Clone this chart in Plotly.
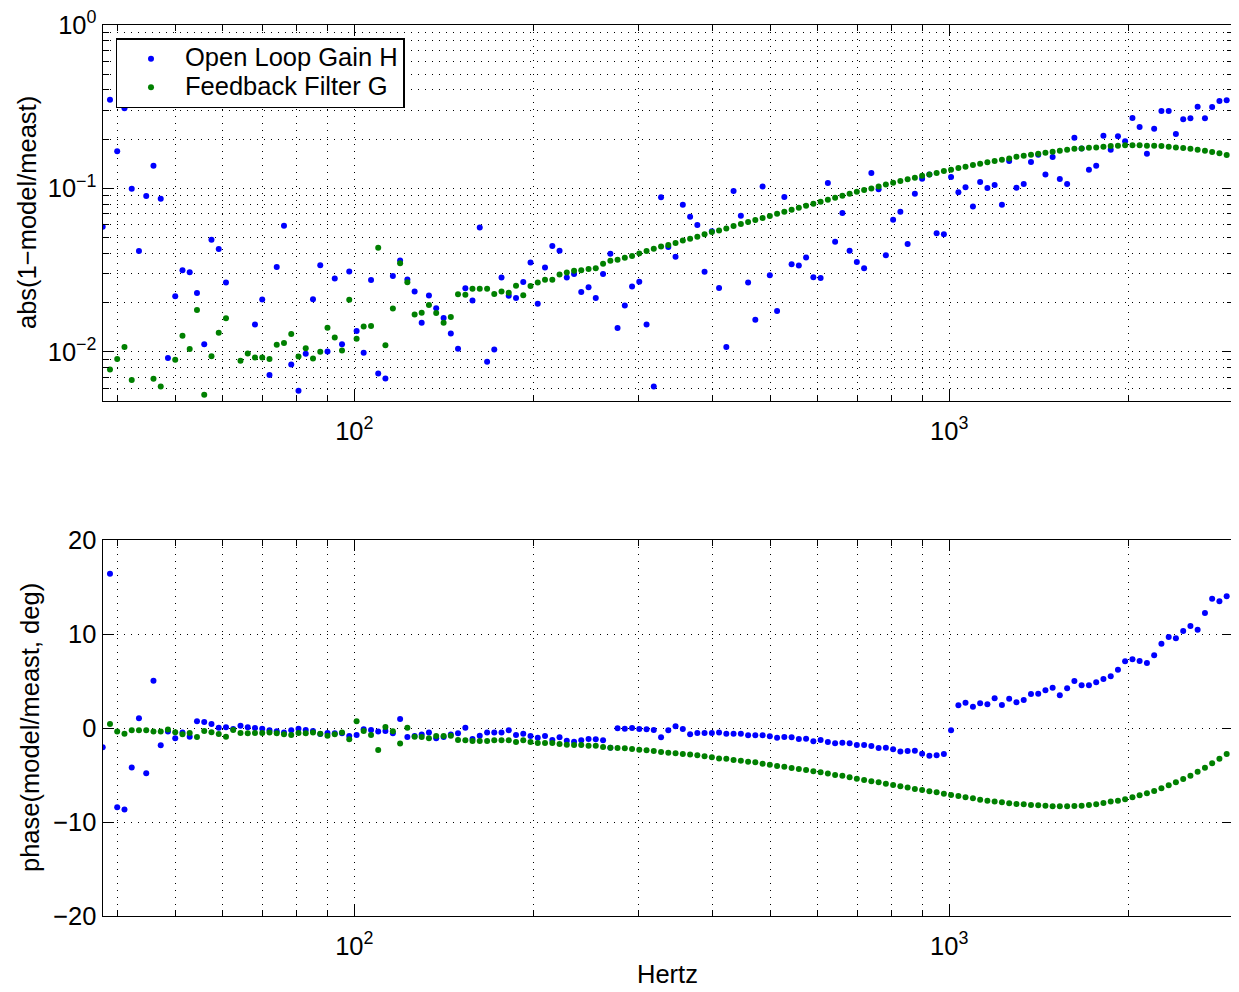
import math
import plotly.graph_objects as go

# ---------------- data ----------------
freq = [
    37.77, 38.85, 39.95, 41.09, 42.26, 43.46, 44.70, 45.97, 47.28, 48.62,
    50.01, 51.43, 52.89, 54.40, 55.95, 57.54, 59.18, 60.86, 62.59, 64.38,
    66.21, 68.09, 70.03, 72.02, 74.07, 76.18, 78.35, 80.58, 82.87, 85.23,
    87.66, 90.15, 92.72, 95.36, 98.07, 100.9, 103.7, 106.7, 109.7, 112.8,
    116.1, 119.4, 122.8, 126.3, 129.8, 133.5, 137.3, 141.3, 145.3, 149.4,
    153.7, 158.0, 162.5, 167.2, 171.9, 176.8, 181.8, 187.0, 192.3, 197.8,
    203.4, 209.2, 215.2, 221.3, 227.6, 234.1, 240.7, 247.6, 254.6, 261.9,
    269.4, 277.0, 284.9, 293.0, 301.3, 309.9, 318.7, 327.8, 337.1, 346.7,
    356.6, 366.8, 377.2, 387.9, 399.0, 410.3, 422.0, 434.0, 446.4, 459.1,
    472.1, 485.6, 499.4, 513.6, 528.2, 543.3, 558.7, 574.6, 591.0, 607.8,
    625.1, 642.9, 661.2, 680.0, 699.3, 719.3, 739.7, 760.8, 782.4, 804.7,
    827.6, 851.2, 875.4, 900.3, 925.9, 952.3, 979.4, 1007, 1036, 1065,
    1096, 1127, 1159, 1192, 1226, 1261, 1297, 1334, 1372, 1411,
    1451, 1492, 1534, 1578, 1623, 1669, 1717, 1766, 1816, 1868,
    1921, 1975, 2032, 2089, 2149, 2210, 2273, 2338, 2404, 2473,
    2543, 2615, 2690, 2766, 2845, 2926,
]

# abs(1 - model/meas), open loop gain H (None = below the plotted range)
H_mag = [
    0.0582, 0.3486, 0.1684, 0.3086, 0.0995, 0.0413, 0.0897, 0.1375, 0.0864, 0.00915,
    0.0219, 0.0315, 0.0307, 0.0229, 0.01114, 0.0485, 0.0425, 0.0265, None, None,
    None, 0.01471, 0.0209, 0.0072, 0.0330, 0.0591, 0.00837, 0.00578, 0.00973, 0.0210,
    0.0339, 0.01005, 0.0281, 0.01114, 0.0310, 0.01339, 0.00987, 0.0275, 0.00737, 0.00687,
    0.0291, 0.0362, 0.0277, 0.0234, 0.01505, 0.0221, 0.0185, 0.01608, 0.01296, 0.01044,
    0.0245, 0.0206, 0.0577, 0.00869, 0.01034, 0.0285, 0.0220, 0.0213, 0.0267, 0.0352,
    0.0197, 0.0328, 0.0444, 0.0415, 0.0285, 0.0299, 0.0232, 0.0248, 0.0213, 0.0299,
    0.0398, 0.01397, 0.0192, 0.0251, 0.0268, 0.01471, 0.00614, 0.0881, 0.0437, 0.0382,
    0.0794, 0.0671, 0.0597, 0.0309, 0.0546, 0.0246, 0.01069, 0.0963, 0.0680, 0.0265,
    0.01572, 0.1028, 0.0294, 0.01776, 0.0885, 0.0343, 0.0337, 0.0377, 0.0286, 0.0283,
    0.1077, 0.0471, 0.0706, 0.0415, 0.0354, 0.0325, 0.1240, 0.0986, 0.0389, 0.0643,
    0.0720, 0.0456, 0.0927, 0.1145, 0.1215, 0.0532, 0.0523, 0.1173, 0.0945, 0.1014,
    0.0775, 0.1093, 0.1004, 0.1047, 0.0794, 0.1469, 0.1009, 0.1062, 0.1449, 0.1606,
    0.1217, 0.1554, 0.1140, 0.1062, 0.2041, 0.1756, 0.1300, 0.1375, 0.2100, 0.1724,
    0.2080, 0.1939, 0.2693, 0.2372, 0.1629, 0.2317, 0.2972, 0.2972, 0.2150, 0.2643,
    0.2681, 0.3160, 0.2681, 0.3145, 0.3423, 0.3455,
]

# abs(1 - model/meas), feedback filter G
G_mag = [
    None, 0.0078, 0.00902, 0.01069, 0.00671, None, None, 0.00684, 0.00614, None,
    0.00894, 0.01254, 0.01039, 0.0180, 0.00546, 0.0094, 0.01306, 0.01606, None, 0.00882,
    0.00978, 0.00924, 0.00924, 0.00902, 0.01104, 0.0113, 0.01284, 0.00937, 0.01053, 0.0091,
    0.0100, 0.01403, 0.01225, 0.0102, 0.0208, 0.01202, 0.0143, 0.01437, 0.0433, 0.01098,
    0.0184, 0.0348, 0.0266, 0.01694, 0.01734, 0.0193, 0.01726, 0.01506, 0.01632, 0.0225,
    0.0223, 0.0243, 0.0243, 0.0243, 0.02255, 0.0234, 0.0230, 0.02536, 0.0222, 0.02524,
    0.02658, 0.0276, 0.0276, 0.02975, 0.0306, 0.0313, 0.0315, 0.0321, 0.0324, 0.0346,
    0.0361, 0.0366, 0.0376, 0.0385, 0.0400, 0.0413, 0.0427, 0.0441, 0.0450, 0.0463,
    0.0480, 0.0492, 0.0506, 0.0523, 0.0540, 0.0553, 0.0569, 0.0588, 0.0605, 0.0622,
    0.0640, 0.0658, 0.0677, 0.0700, 0.0720, 0.0740, 0.0761, 0.0783, 0.0805, 0.0828,
    0.0852, 0.0877, 0.0900, 0.0927, 0.0954, 0.0976, 0.0999, 0.1028, 0.1057, 0.1083,
    0.1109, 0.1135, 0.1162, 0.1195, 0.1217, 0.1240, 0.1276, 0.1300, 0.1331, 0.1356,
    0.1389, 0.1415, 0.1442, 0.1469, 0.1497, 0.1525, 0.1561, 0.1584, 0.1606, 0.1629,
    0.1652, 0.1676, 0.1699, 0.1724, 0.1748, 0.1756, 0.1773, 0.1781, 0.1798, 0.1815,
    0.1823, 0.1832, 0.1832, 0.1832, 0.1823, 0.1823, 0.1815, 0.1798, 0.1781, 0.1765,
    0.1748, 0.1724, 0.1699, 0.1668, 0.1637, 0.1599,
]

# phase(model/meas) in degrees, open loop gain H
H_phase = [
    -2.02, 16.45, -8.40, -8.65, -4.18, 1.06, -4.79, 5.07, -1.81, -0.35,
    -1.06, -0.46, -0.89, 0.74, 0.67, 0.46, 0.07, 0.11, -0.07, 0.28,
    0.11, 0.04, -0.04, -0.21, -0.32, -0.46, -0.21, -0.04, -0.18, -0.28,
    -0.60, -0.50, -0.53, -0.53, -0.82, -0.71, -0.11, -0.18, -0.35, -0.28,
    -0.53, 0.99, -0.92, -0.82, -0.67, -0.46, -1.06, -0.92, -0.67, -0.53,
    0.05, -1.14, -0.78, -0.46, -0.46, -0.46, -0.22, -0.71, -0.57, -0.82,
    -1.00, -0.82, -1.24, -0.96, -1.32, -1.42, -1.28, -1.14, -1.17, -1.28,
    -2.06, 0.00, -0.04, 0.03, -0.07, -0.11, -0.18, -0.96, -0.22, 0.21,
    -0.07, -0.64, -0.50, -0.50, -0.50, -0.46, -0.57, -0.57, -0.57, -0.75,
    -0.75, -0.75, -0.85, -1.00, -0.93, -0.96, -1.14, -1.10, -1.39, -1.24,
    -1.46, -1.60, -1.53, -1.60, -1.77, -1.77, -1.88, -2.09, -2.06, -2.24,
    -2.48, -2.41, -2.38, -2.70, -2.91, -2.87, -2.73, -0.22, 2.44, 2.73,
    2.30, 2.66, 2.55, 3.19, 2.48, 3.15, 2.76, 3.01, 3.65, 3.68,
    4.04, 4.32, 3.51, 4.25, 5.03, 4.57, 4.57, 4.89, 5.24, 5.53,
    6.24, 7.12, 7.34, 7.16, 6.95, 7.76, 9.00, 9.71, 9.57, 10.35,
    10.88, 10.49, 12.27, 13.79, 13.51, 14.04,
]

# phase(model/meas) in degrees, feedback filter G
G_phase = [
    None, 0.46, -0.35, -0.57, -0.21, -0.21, -0.21, -0.35, -0.35, -0.14,
    -0.43, -0.64, -0.50, -0.92, -0.28, -0.43, -0.60, -0.89, -0.18, -0.50,
    -0.53, -0.50, -0.50, -0.46, -0.53, -0.64, -0.71, -0.50, -0.53, -0.46,
    -0.57, -0.78, -0.64, -0.46, -1.17, 0.74, -0.28, -0.71, -2.30, 0.14,
    -0.32, -1.63, 0.07, -0.89, -0.92, -1.06, -0.82, -0.82, -0.78, -1.24,
    -1.26, -1.35, -1.35, -1.35, -1.28, -1.28, -1.28, -1.46, -1.28, -1.46,
    -1.56, -1.56, -1.56, -1.67, -1.74, -1.78, -1.78, -1.85, -1.85, -1.99,
    -2.06, -2.10, -2.13, -2.20, -2.27, -2.34, -2.41, -2.52, -2.59, -2.66,
    -2.73, -2.80, -2.88, -2.98, -3.09, -3.20, -3.23, -3.37, -3.44, -3.55,
    -3.62, -3.76, -3.87, -4.01, -4.08, -4.22, -4.33, -4.43, -4.57, -4.68,
    -4.82, -4.96, -5.05, -5.21, -5.36, -5.50, -5.64, -5.75, -5.89, -6.03,
    -6.17, -6.31, -6.46, -6.56, -6.71, -6.81, -6.95, -7.09, -7.20, -7.34,
    -7.45, -7.59, -7.70, -7.80, -7.87, -7.98, -8.05, -8.09, -8.16, -8.19,
    -8.23, -8.30, -8.30, -8.30, -8.27, -8.23, -8.16, -8.09, -7.94, -7.80,
    -7.70, -7.55, -7.34, -7.13, -6.92, -6.67, -6.38, -6.06, -5.75, -5.39,
    -5.04, -4.61, -4.19, -3.72, -3.23, -2.73,
]

series_names = ["Open Loop Gain H", "Feedback Filter G"]
x_major = [100, 1000]
x_major_text = ["10<sup>2</sup>", "10<sup>3</sup>"]
x_minor = [40, 50, 60, 70, 80, 90, 200, 300, 400, 500, 600, 700, 800, 900, 2000, 3000]
mag_major = [0.01, 0.1, 1]
mag_major_text = ["10<sup>\u22122</sup>", "10<sup>\u22121</sup>", "10<sup>0</sup>"]
mag_minor = [0.005, 0.006, 0.007, 0.008, 0.009,
             0.02, 0.03, 0.04, 0.05, 0.06, 0.07, 0.08, 0.09,
             0.2, 0.3, 0.4, 0.5, 0.6, 0.7, 0.8, 0.9]
phase_ticks = [-20, -10, 0, 10, 20]

# ---------------- styling ----------------
# The page body has an 8px margin, so the figure is 8px smaller than the window
OFF = 8
W, H = 1239 - OFF, 992 - OFF
BLUE = "#0000ff"
GREEN = "#008000"
FONT = "Liberation Sans, Arial, Helvetica, sans-serif"
FS = 25.5
GRID_DASH = "1px,6px"


def fx(p):
    return (p - OFF) / W


def fy(p):
    return 1 - (p - OFF) / H


x_dom = [fx(102.7), fx(1232.7)]
top_dom = [fy(401.0), fy(24.9)]
bot_dom = [fy(916.3), fy(540.3)]

fig = go.Figure()
mk = dict(size=6, line=dict(width=0))
legend_names = ["<span style='font-size:%gpx'>%s</span>" % (FS, n) for n in series_names]
fig.add_trace(go.Scatter(x=freq, y=H_mag, mode="markers", name=legend_names[0],
                         marker=dict(color=BLUE, **mk), xaxis="x", yaxis="y", cliponaxis=True))
fig.add_trace(go.Scatter(x=freq, y=G_mag, mode="markers", name=legend_names[1],
                         marker=dict(color=GREEN, **mk), xaxis="x", yaxis="y", cliponaxis=True))
fig.add_trace(go.Scatter(x=freq, y=H_phase, mode="markers", name=series_names[0], showlegend=False,
                         marker=dict(color=BLUE, **mk), xaxis="x2", yaxis="y2", cliponaxis=True))
fig.add_trace(go.Scatter(x=freq, y=G_phase, mode="markers", name=series_names[1], showlegend=False,
                         marker=dict(color=GREEN, **mk), xaxis="x2", yaxis="y2", cliponaxis=True))

common = dict(showline=True, linecolor="black", linewidth=1.3, mirror="allticks",
              ticks="inside", ticklen=11, tickwidth=1, tickcolor="black",
              showgrid=True, gridcolor="black", gridwidth=1, griddash=GRID_DASH,
              zeroline=False, automargin=False, ticklabeloverflow="allow",
              tickfont=dict(family=FONT, size=FS, color="black"))
minor_common = dict(ticks="inside", ticklen=6, tickwidth=1, tickcolor="black",
                    showgrid=True, gridcolor="black", gridwidth=1, griddash=GRID_DASH)

xr = [math.log10(37.77), math.log10(2995)]
xaxis = dict(type="log", range=xr, domain=x_dom, anchor="y", ticklabelstandoff=7,
             tickmode="array", tickvals=x_major, ticktext=x_major_text,
             minor=dict(tickmode="array", tickvals=x_minor, **minor_common), **common)
xaxis2 = dict(type="log", range=xr, domain=x_dom, anchor="y2", ticklabelstandoff=7,
              tickmode="array", tickvals=x_major, ticktext=x_major_text,
              minor=dict(tickmode="array", tickvals=x_minor, **minor_common), **common)
yaxis = dict(type="log", range=[math.log10(0.005), 0], domain=top_dom, anchor="x",
             tickmode="array", tickvals=mag_major, ticktext=mag_major_text,
             minor=dict(tickmode="array", tickvals=mag_minor, **minor_common), **common)
yaxis2 = dict(range=[-20, 20], domain=bot_dom, anchor="x2",
              tickmode="array", tickvals=phase_ticks, **common)

fig.update_layout(
    template="none",
    width=W, height=H,
    margin=dict(l=0, r=0, t=0, b=0, pad=0, autoexpand=False),
    paper_bgcolor="white", plot_bgcolor="white",
    font=dict(family=FONT, size=FS, color="black"),
    xaxis=xaxis, yaxis=yaxis, xaxis2=xaxis2, yaxis2=yaxis2,
    showlegend=True,
    legend=dict(x=fx(115.7), y=fy(38.3), xanchor="left", yanchor="top",
                bgcolor="white", bordercolor="black", borderwidth=1.3,
                font=dict(family=FONT, size=19.5, color="black"),
                itemwidth=58, tracegroupgap=0, traceorder="normal"),
    annotations=[
        dict(text="abs(1\u2212model/meast)", x=fx(27), y=fy(213), xref="paper", yref="paper",
             showarrow=False, textangle=-90, font=dict(family=FONT, size=FS, color="black"),
             xanchor="center", yanchor="middle"),
        dict(text="phase(model/meast, deg)", x=fx(30), y=fy(728), xref="paper", yref="paper",
             showarrow=False, textangle=-90, font=dict(family=FONT, size=FS, color="black"),
             xanchor="center", yanchor="middle"),
        dict(text="Hertz", x=fx(667.7), y=fy(974), xref="paper", yref="paper",
             showarrow=False, font=dict(family=FONT, size=FS, color="black"),
             xanchor="center", yanchor="middle"),
    ],
)

fig.write_html("out.html")
